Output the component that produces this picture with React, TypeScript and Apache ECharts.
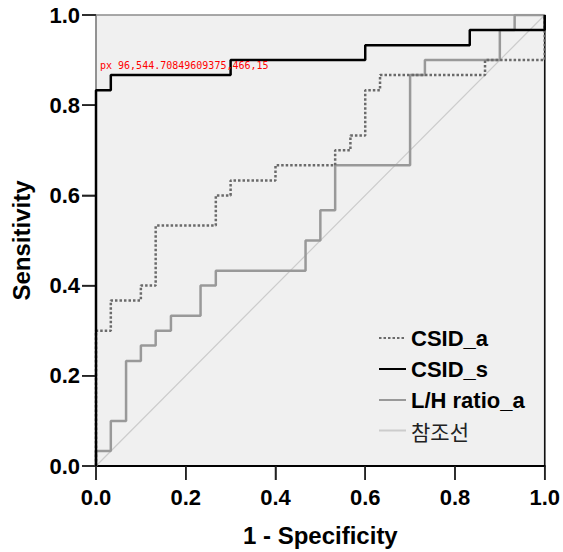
import React, { useEffect, useRef, useState } from "react";
import * as echarts from "echarts";

// ROC curve points: 1 - Specificity (fpr) and Sensitivity (tpr)
const csidAFpr = [0, 0, 0.033, 0.033, 0.1, 0.1, 0.133, 0.133, 0.267, 0.267, 0.3, 0.3, 0.4, 0.4, 0.533, 0.533, 0.567, 0.567, 0.6, 0.6, 0.633, 0.633, 0.867, 0.867, 1, 1];
const csidATpr = [0, 0.3, 0.3, 0.367, 0.367, 0.4, 0.4, 0.533, 0.533, 0.6, 0.6, 0.633, 0.633, 0.667, 0.667, 0.7, 0.7, 0.733, 0.733, 0.833, 0.833, 0.867, 0.867, 0.9, 0.9, 1];

const csidSFpr = [0, 0, 0.033, 0.033, 0.3, 0.3, 0.6, 0.6, 0.833, 0.833, 1, 1];
const csidSTpr = [0, 0.833, 0.833, 0.867, 0.867, 0.9, 0.9, 0.933, 0.933, 0.967, 0.967, 1];

const lhFpr = [0, 0, 0.033, 0.033, 0.067, 0.067, 0.1, 0.1, 0.133, 0.133, 0.167, 0.167, 0.233, 0.233, 0.267, 0.267, 0.467, 0.467, 0.5, 0.5, 0.533, 0.533, 0.7, 0.7, 0.733, 0.733, 0.9, 0.9, 0.933, 0.933, 1];
const lhTpr = [0, 0.033, 0.033, 0.1, 0.1, 0.233, 0.233, 0.267, 0.267, 0.3, 0.3, 0.333, 0.333, 0.4, 0.4, 0.433, 0.433, 0.5, 0.5, 0.567, 0.567, 0.667, 0.667, 0.867, 0.867, 0.9, 0.9, 0.967, 0.967, 1, 1];

const refFpr = [0, 1];
const refTpr = [0, 1];

const tickValues = [0, 0.2, 0.4, 0.6, 0.8, 1.0];

const seriesNames = ["CSID_a", "CSID_s", "L/H ratio_a", "참조선"];
const xTitle = "1 - Specificity";
const yTitle = "Sensitivity";

const zip = (xs: number[], ys: number[]) => xs.map((x, i) => [x, ys[i]]);

const FONT = "'Liberation Sans', Arial, sans-serif";
const TICK_LEN = 14;

const fmt = (v: any) => {
  const n = typeof v === "number" ? v : Number(v && typeof v === "object" ? v.value : v);
  return Number.isFinite(n) ? n.toFixed(1) : String(v);
};

export default function App() {
  const ref = useRef<HTMLDivElement>(null);
  const [err, setErr] = useState("");
  useEffect(() => {
    if (!ref.current) return;
    const chart = echarts.init(ref.current, null, { renderer: "svg" });
    const msgs: string[] = [];
    const axisLabel = {
      fontFamily: FONT,
      fontWeight: "bold" as const,
      fontSize: 22,
      color: "#000",
      formatter: fmt,
    };
    const boldText = { fontFamily: FONT, fontWeight: "bold", fontSize: 22, color: "#000" };
    try {
      chart.setOption({
        animation: false,
        grid: {
          left: 96,
          top: 15,
          width: 451,
          height: 451,
          show: true,
          backgroundColor: "#f0f0f0",
          borderColor: "#8c8c8c",
          borderWidth: 1.5,
        },
        legend: {
          orient: "vertical",
          left: 378,
          top: 327,
          padding: 0,
          itemWidth: 27,
          itemHeight: 14,
          itemGap: 9,
          itemStyle: { opacity: 0 },
          data: [
            { name: seriesNames[0], textStyle: boldText },
            { name: seriesNames[1], textStyle: boldText },
            { name: seriesNames[2], textStyle: boldText },
            { name: seriesNames[3], textStyle: { fontFamily: "'Noto Sans CJK KR', sans-serif", fontWeight: "normal", fontSize: 21, color: "#222" } },
          ],
        },
        xAxis: {
          type: "value",
          min: 0,
          max: 1,
          interval: 0.2,
          name: xTitle,
          nameLocation: "middle",
          nameGap: 57,
          nameTextStyle: { fontFamily: FONT, fontWeight: "bold", fontSize: 24, color: "#000" },
          axisLine: { show: true, lineStyle: { color: "#000", width: 2 } },
          axisTick: { show: true, length: TICK_LEN, lineStyle: { color: "#222", width: 1.5 } },
          axisLabel: { ...axisLabel, margin: 20 },
          splitLine: { show: false },
        },
        yAxis: {
          type: "value",
          min: 0,
          max: 1,
          interval: 0.2,
          name: yTitle,
          nameLocation: "middle",
          nameGap: 63,
          nameTextStyle: { fontFamily: FONT, fontWeight: "bold", fontSize: 24, color: "#000" },
          axisLine: { show: true, lineStyle: { color: "#8c8c8c", width: 1.5 } },
          axisTick: { show: true, length: TICK_LEN, lineStyle: { color: "#222", width: 1.5 } },
          axisLabel: { ...axisLabel, margin: 16 },
          splitLine: { show: false },
        },
        series: [
          { name: seriesNames[3], type: "line", data: zip(refFpr, refTpr), symbol: "none", lineStyle: { color: "#cccccc", width: 1.2 }, itemStyle: { color: "#cccccc" }, z: 1 },
          { name: seriesNames[2], type: "line", data: zip(lhFpr, lhTpr), symbol: "none", lineStyle: { color: "#999999", width: 2.5 }, itemStyle: { color: "#999999" }, z: 2 },
          { name: seriesNames[0], type: "line", data: zip(csidAFpr, csidATpr), symbol: "none", lineStyle: { color: "#6a6a6a", width: 2.5, type: [2.5, 2] }, itemStyle: { color: "#6a6a6a" }, z: 3 },
          { name: seriesNames[1], type: "line", data: zip(csidSFpr, csidSTpr), symbol: "none", lineStyle: { color: "#000000", width: 2.5 }, itemStyle: { color: "#000000" }, z: 4 },
        ],
      });
    } catch (e: any) {
      msgs.push("A: " + String(e && e.message) + " | " + String(e && e.stack).slice(0, 300));
    }

    try {
      const els: any[] = [];
      const x0 = chart.convertToPixel({ xAxisIndex: 0 }, 0) as number;
      const x1 = chart.convertToPixel({ xAxisIndex: 0 }, 1) as number;
      const y0 = chart.convertToPixel({ yAxisIndex: 0 }, 0) as number;
      const y1 = chart.convertToPixel({ yAxisIndex: 0 }, 1) as number;
      msgs.push("px " + [x0, x1, y0, y1].join(","));
      tickValues.forEach((v) => {
        const px = chart.convertToPixel({ xAxisIndex: 0 }, v) as number;
        const py = chart.convertToPixel({ yAxisIndex: 0 }, v) as number;
        els.push({ type: "line", shape: { x1: px, y1: y0, x2: px, y2: y0 + TICK_LEN }, style: { stroke: "#222", lineWidth: 1.5 } });
        els.push({ type: "line", shape: { x1: x0 - TICK_LEN, y1: py, x2: x0, y2: py }, style: { stroke: "#222", lineWidth: 1.5 } });
      });
      els.push({ type: "line", shape: { x1: x1, y1: y0, x2: x1, y2: y1 }, style: { stroke: "#111", lineWidth: 1.5 } });
      chart.setOption({ graphic: { elements: els } });
    } catch (e: any) {
      msgs.push("B: " + String(e && e.message));
    }
    setErr(msgs.join("\n"));
    return () => chart.dispose();
  }, []);
  return (
    <>
      <div ref={ref} style={{ position: "absolute", left: 0, top: 0, width: 563, height: 552 }} />
      <pre style={{ position: "absolute", left: 100, top: 60, width: 440, fontSize: 10, whiteSpace: "pre-wrap", margin: 0, color: "red", pointerEvents: "none" }}>{err}</pre>
    </>
  );
}
